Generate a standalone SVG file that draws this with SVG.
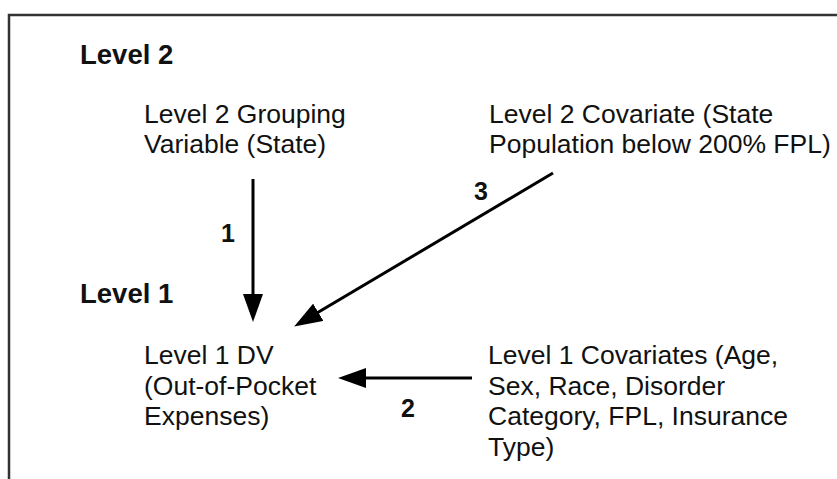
<svg xmlns="http://www.w3.org/2000/svg" width="837" height="479" viewBox="0 0 837 479">
  <style>
    .t { font-family: "Liberation Sans", Arial, sans-serif; font-size: 26.5px; fill: #111; }
    .h { font-family: "Liberation Sans", Arial, sans-serif; font-size: 27.5px; font-weight: bold; fill: #111; }
    .n { font-family: "Liberation Sans", Arial, sans-serif; font-size: 25px; font-weight: bold; fill: #111; }
    .c { stroke: #000; stroke-width: 3; fill: none; marker-end: url(#ah); }
  </style>
  <defs>
    <marker id="ah" markerUnits="userSpaceOnUse" markerWidth="28" markerHeight="20" refX="4" refY="10" orient="auto" viewBox="0 0 28 20">
      <path d="M0,0 L28,10 L0,20 z" fill="#000"/>
    </marker>
  </defs>
  <rect width="837" height="479" fill="#fff"/>
  <path d="M9,479 V15 H837" fill="none" stroke="#333" stroke-width="2.5"/>

  <g id="level2-label"><text class="h" x="80" y="64">Level 2</text></g>
  <g id="level1-label"><text class="h" x="80" y="303">Level 1</text></g>

  <g id="grouping-variable">
    <text class="t" x="144" y="123">Level 2 Grouping</text>
    <text class="t" x="144" y="153">Variable (State)</text>
  </g>
  <g id="level2-covariate">
    <text class="t" x="489" y="123">Level 2 Covariate (State</text>
    <text class="t" x="489" y="153">Population below 200% FPL)</text>
  </g>
  <g id="level1-dv">
    <text class="t" x="144" y="364">Level 1 DV</text>
    <text class="t" x="144" y="394.5">(Out-of-Pocket</text>
    <text class="t" x="144" y="425">Expenses)</text>
  </g>
  <g id="level1-covariates">
    <text class="t" x="488" y="364">Level 1 Covariates (Age,</text>
    <text class="t" x="488" y="394.5">Sex, Race, Disorder</text>
    <text class="t" x="488" y="425">Category, FPL, Insurance</text>
    <text class="t" x="488" y="455.5">Type)</text>
  </g>

  <g id="connectors">
    <line class="c" x1="253" y1="179" x2="253" y2="298"/>
    <line class="c" x1="553" y1="173" x2="314.8" y2="314.3"/>
    <line class="c" x1="472" y1="378" x2="362" y2="378"/>
    <text class="n" x="221" y="242">1</text>
    <text class="n" x="401" y="417">2</text>
    <text class="n" x="474" y="200">3</text>
  </g>
</svg>
